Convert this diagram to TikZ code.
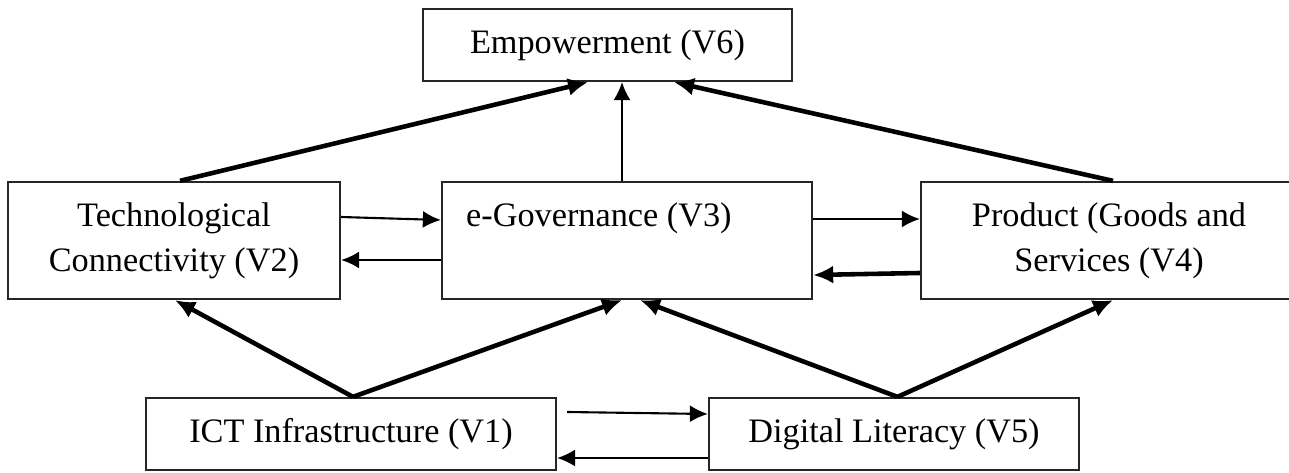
\documentclass[tikz,border=0pt]{standalone}
\usepackage{fontspec}
\setmainfont{Liberation Serif}
\usetikzlibrary{arrows.meta}

\begin{document}
\begin{tikzpicture}[
  varbox/.style={draw=black!85, line width=1.3pt, minimum height=1.44cm,
    align=center, inner sep=0pt, font=\fontsize{19.5}{25.5}\selectfont},
  wideb/.style={minimum height=2.34cm},
  linkarrow/.style={-{Latex[length=3.6mm,width=3.4mm]}, line width=1.2pt},
  boldarrow/.style={-{Latex[length=4mm,width=3.6mm]}, line width=2.6pt}
]
\useasboundingbox (0,0) rectangle (25.78,9.44);
% top
\node[varbox, minimum width=7.38cm] (emp) at (12.15,8.54) {Empowerment (V6)};
% middle row
\node[varbox, wideb, minimum width=6.64cm] (tech) at (3.48,4.63) {Technological\\Connectivity (V2)};
\node[varbox, wideb, minimum width=7.40cm] (egov) at (12.54,4.63) {};
\node[anchor=base west, inner sep=0pt, font=\fontsize{19.5}{25.5}\selectfont] (egov-text)
  at ([xshift=5mm,yshift=-9.2mm]egov.north west) {e-Governance (V3)};
\node[varbox, wideb, minimum width=7.52cm] (prod) at (22.18,4.63) {Product (Goods and\\Services (V4)};
% bottom row
\node[varbox, minimum width=8.20cm] (ict) at (7.02,0.76) {ICT Infrastructure (V1)};
\node[varbox, minimum width=7.40cm] (dl) at (17.88,0.76) {Digital Literacy (V5)};
% upward links
\foreach \a/\sa/\b/\sb in {tech/0.12/emp/-0.39, prod/0.08/emp/1.33, ict/0.04/tech/0.02,
    ict/0.04/egov/-0.10, dl/0.07/egov/0.26, dl/0.07/prod/0.08}
  \draw[boldarrow] ([xshift=\sa cm]\a.north) -- ([xshift=\sb cm]\b.south);
\draw[linkarrow, line width=0.9pt] ([xshift=-1mm]egov.north) -- ([xshift=2.9mm]emp.south);
% sideways links
\draw[linkarrow] ([yshift=4.7mm]tech.east) -- ([yshift=4.1mm]egov.west);
\draw[linkarrow] ([yshift=-3.9mm]egov.west) -- ([yshift=-3.9mm]tech.east);
\draw[linkarrow] ([yshift=4.3mm]egov.east) -- ([yshift=4.3mm]prod.west);
\draw[boldarrow] ([yshift=-6.5mm]prod.west) -- ([yshift=-6.9mm]egov.east);
\draw[linkarrow] ([xshift=2mm,yshift=4.4mm]ict.east) -- ([yshift=4.0mm]dl.west);
\draw[linkarrow, line width=1pt] ([yshift=-4.8mm]dl.west) -- ([yshift=-4.8mm]ict.east);
\end{tikzpicture}
\end{document}
